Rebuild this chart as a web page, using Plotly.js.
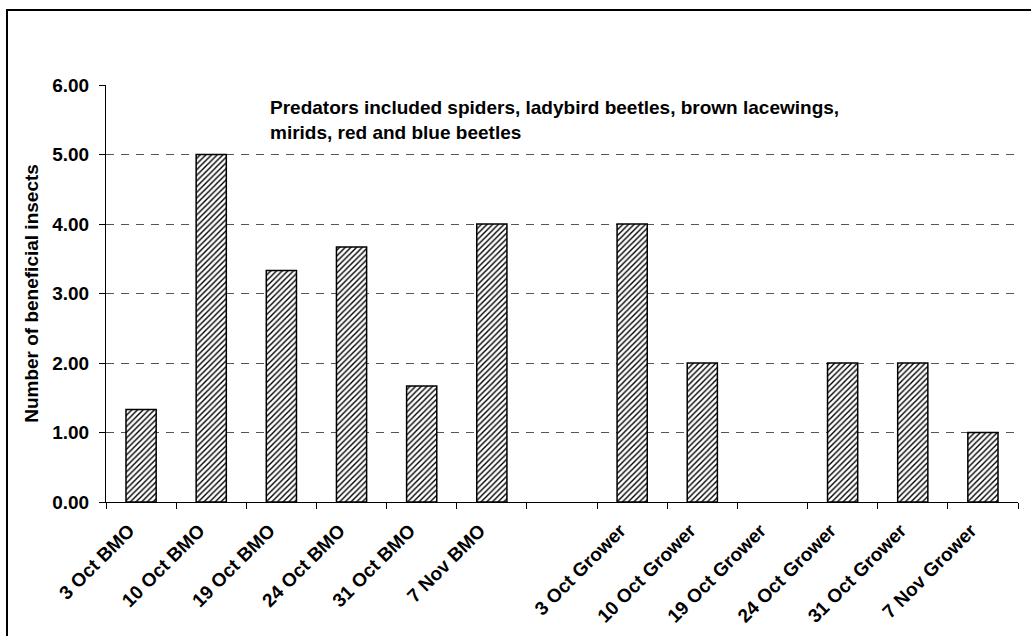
<!DOCTYPE html>
<html>
<head>
<meta charset="utf-8">
<script src="https://cdn.plot.ly/plotly-3.0.1.min.js"></script>
<style>
html,body{margin:0;padding:0;background:#fff;overflow:hidden;}
#wrap{position:relative;width:1031px;height:636px;overflow:hidden;}
#chart{width:1031px;height:636px;}
#frame{position:absolute;left:6px;top:9px;width:1100px;height:700px;border:2px solid #000;pointer-events:none;}
</style>
</head>
<body>
<div id="wrap"><div id="chart"></div><div id="frame"></div></div>
<script>
const categories = ["3 Oct BMO","10 Oct BMO","19 Oct BMO","24 Oct BMO","31 Oct BMO","7 Nov BMO"," ",
  "3 Oct Grower","10 Oct Grower","19 Oct Grower","24 Oct Grower","31 Oct Grower","7 Nov Grower"];
const beneficials = [1.33, 5.00, 3.33, 3.67, 1.67, 4.00, null, 4.00, 2.00, 0, 2.00, 2.00, 1.00];
const yTicks = [0, 1, 2, 3, 4, 5, 6];
const noteText = "Predators included spiders, ladybird beetles, brown lacewings,<br>mirids, red and blue beetles";
const yTitle = "Number of beneficial insects";

const FONT = "Liberation Sans, Arial, sans-serif";

const trace = {
  type: "bar",
  x: categories,
  y: beneficials,
  marker: {
    color: "#ffffff",
    line: {color: "#000000", width: beneficials.map(v => (v ? 1.5 : 0))},
    pattern: {shape: "/", fgcolor: "#000000", bgcolor: "#ffffff", size: 4, solidity: 0.35}
  },
  hoverinfo: "x+y"
};

const layout = {
  width: 1031, height: 636,
  margin: {l: 106, r: 13, t: 85, b: 134},
  paper_bgcolor: "#ffffff",
  plot_bgcolor: "#ffffff",
  showlegend: false,
  bargap: 0.57,
  font: {family: FONT, size: 19, color: "#000"},
  xaxis: {
    type: "category",
    categoryorder: "array",
    categoryarray: categories,
    tickson: "boundaries",
    ticks: "outside", ticklen: 6, tickcolor: "#000", tickwidth: 1,
    ticklabelshift: -12,
    ticklabelstandoff: 9,
    showline: true, linecolor: "#000", linewidth: 1,
    showgrid: false,
    tickangle: -45,
    tickfont: {family: FONT, size: 19, weight: "bold", color: "#000"},
    zeroline: false
  },
  yaxis: {
    range: [0, 6],
    tickvals: yTicks,
    tickformat: ".2f",
    ticks: "outside", ticklen: 6, tickcolor: "#000", tickwidth: 1,
    ticklabelstandoff: 6,
    showline: true, linecolor: "#000", linewidth: 1,
    showgrid: true, gridcolor: "#555555", gridwidth: 1, griddash: "8px,7px",
    zeroline: false,
    tickfont: {family: FONT, size: 19, weight: "bold", color: "#000"},
    title: {text: yTitle, font: {family: FONT, size: 19, weight: "bold", color: "#000"}, standoff: 8}
  },
  annotations: [{
    xref: "paper", yref: "paper",
    x: (268 - 106) / 912, y: (502 - 95) / 417,
    xanchor: "left", yanchor: "top",
    align: "left",
    showarrow: false,
    text: noteText,
    font: {family: FONT, size: 19, weight: "bold", color: "#000"}
  }]
};

Plotly.newPlot("chart", [trace], layout, {displayModeBar: false, staticPlot: true});
</script>
</body>
</html>
